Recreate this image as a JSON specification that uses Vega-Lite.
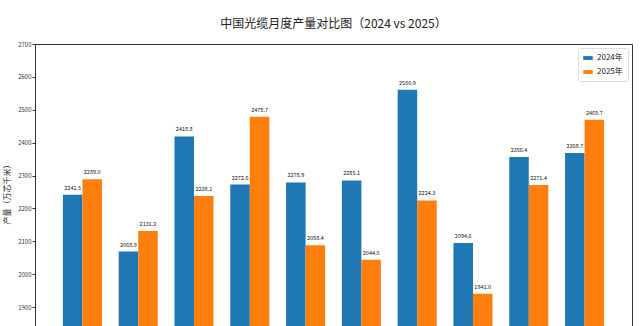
{
  "$schema": "https://vega.github.io/schema/vega-lite/v6.json",
  "autosize": "none",
  "padding": {"left": 35, "top": 44, "right": 8, "bottom": 0},
  "width": 597,
  "height": 296,
  "background": "white",
  "title": {
    "text": "中国光缆月度产量对比图（2024 vs 2025）",
    "font": "Noto Sans CJK SC",
    "fontSize": 12,
    "fontWeight": "normal",
    "color": "#222",
    "offset": 10,
    "anchor": "middle"
  },
  "config": {
    "view": {"stroke": "#333", "strokeWidth": 1},
    "font": "Noto Sans CJK SC"
  },
  "data": {
    "values": [
      {"month": "1月", "year": "2024年", "value": 2241.5},
      {"month": "1月", "year": "2025年", "value": 2289.0},
      {"month": "2月", "year": "2024年", "value": 2068.9},
      {"month": "2月", "year": "2025年", "value": 2131.2},
      {"month": "3月", "year": "2024年", "value": 2418.8},
      {"month": "3月", "year": "2025年", "value": 2238.1},
      {"month": "4月", "year": "2024年", "value": 2272.6},
      {"month": "4月", "year": "2025年", "value": 2478.7},
      {"month": "5月", "year": "2024年", "value": 2278.9},
      {"month": "5月", "year": "2025年", "value": 2088.4},
      {"month": "6月", "year": "2024年", "value": 2285.1},
      {"month": "6月", "year": "2025年", "value": 2044.0},
      {"month": "7月", "year": "2024年", "value": 2560.9},
      {"month": "7月", "year": "2025年", "value": 2224.3},
      {"month": "8月", "year": "2024年", "value": 2094.6},
      {"month": "8月", "year": "2025年", "value": 1941.0},
      {"month": "9月", "year": "2024年", "value": 2356.4},
      {"month": "9月", "year": "2025年", "value": 2271.4},
      {"month": "10月", "year": "2024年", "value": 2368.7},
      {"month": "10月", "year": "2025年", "value": 2469.7}
    ]
  },
  "encoding": {
    "x": {
      "field": "month",
      "type": "nominal",
      "sort": null,
      "scale": {"paddingInner": 0.3, "paddingOuter": 0.5},
      "axis": {"title": null, "labels": false, "ticks": false, "domain": false}
    },
    "xOffset": {"field": "year", "type": "nominal"},
    "y": {
      "field": "value",
      "type": "quantitative",
      "scale": {"domain": [1800, 2700], "nice": false, "zero": false},
      "axis": {
        "title": "产量（万芯千米）",
        "titleFontSize": 8,
        "titleFontWeight": "normal",
        "titleColor": "#222",
        "titlePadding": 6,
        "values": [1900, 2000, 2100, 2200, 2300, 2400, 2500, 2600, 2700],
        "format": "d",
        "labelFontSize": 6,
        "labelColor": "#333",
        "tickSize": 3,
        "tickColor": "#333",
        "domainColor": "#333",
        "grid": false,
        "labelPadding": 1
      }
    }
  },
  "layer": [
    {
      "mark": {"type": "bar", "clip": true},
      "encoding": {
        "color": {
          "field": "year",
          "type": "nominal",
          "scale": {"domain": ["2024年", "2025年"], "range": ["#1f77b4", "#ff7f0e"]},
          "legend": {
            "title": null,
            "orient": "top-right",
            "offset": 4,
            "labelFontSize": 8,
            "labelColor": "#222",
            "symbolType": "M-1,-0.4H1V0.4H-1Z",
            "symbolSize": 90,
            "symbolStrokeWidth": 0,
            "strokeColor": "#ddd",
            "fillColor": "white",
            "padding": 5,
            "rowPadding": 5,
            "cornerRadius": 2
          }
        }
      }
    },
    {
      "mark": {"type": "text", "dy": -4, "baseline": "bottom", "fontSize": 5.5, "color": "#111"},
      "encoding": {
        "text": {"field": "value", "type": "quantitative", "format": ".1f"}
      }
    }
  ]
}
